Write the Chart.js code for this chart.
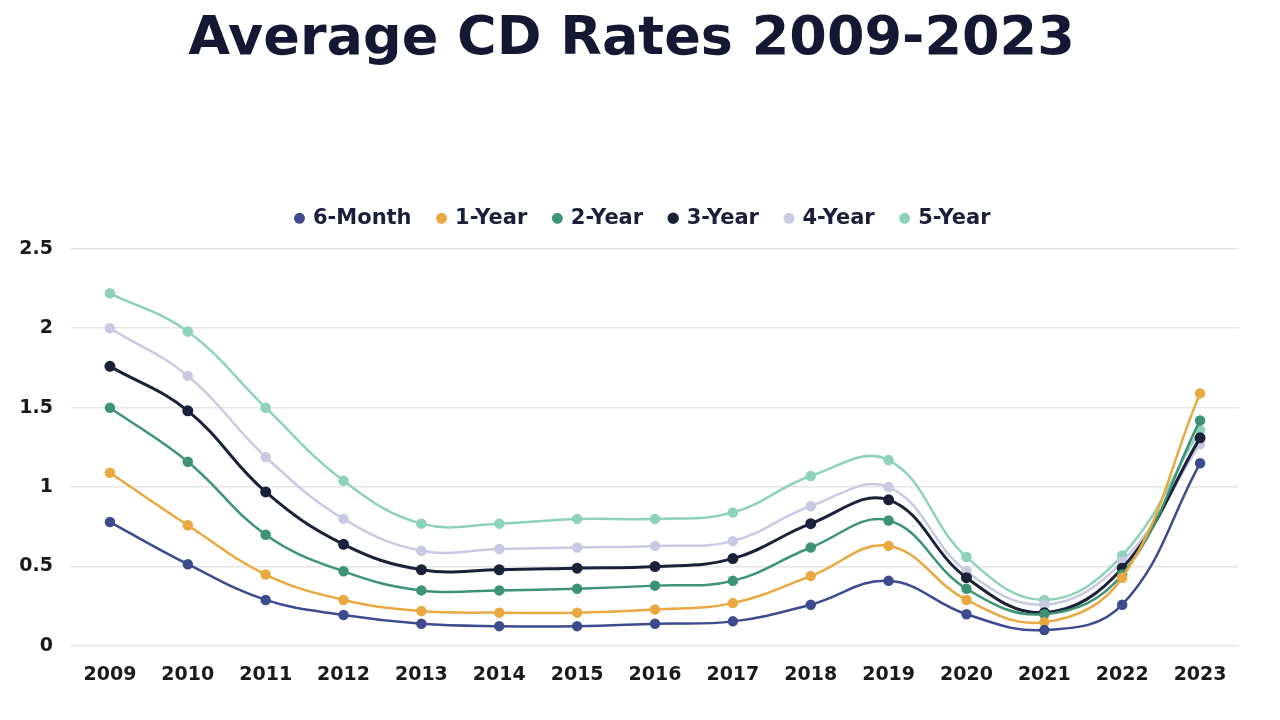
<!DOCTYPE html>
<html>
<head>
<meta charset="utf-8">
<script src="https://cdn.jsdelivr.net/npm/chart.js@4/dist/chart.umd.min.js"></script>
<style>
  html, body { margin: 0; padding: 0; background: #ffffff; }
  #wrap { width: 1280px; height: 720px; position: relative; }
</style>
</head>
<body>
<div id="wrap"><canvas id="c" width="1280" height="720"></canvas></div>
<script>
const years = ["2009","2010","2011","2012","2013","2014","2015","2016","2017","2018","2019","2020","2021","2022","2023"];
const sixMonth = [0.78,0.515,0.29,0.195,0.14,0.125,0.125,0.14,0.155,0.26,0.41,0.20,0.10,0.26,1.15];
const oneYear  = [1.09,0.76,0.45,0.29,0.22,0.21,0.21,0.23,0.27,0.44,0.63,0.29,0.15,0.43,1.59];
const twoYear  = [1.50,1.16,0.70,0.47,0.35,0.35,0.36,0.38,0.41,0.62,0.79,0.36,0.20,0.45,1.42];
const threeYear= [1.76,1.48,0.97,0.64,0.48,0.48,0.49,0.50,0.55,0.77,0.92,0.43,0.21,0.49,1.31];
const fourYear = [2.00,1.70,1.19,0.80,0.60,0.61,0.62,0.63,0.66,0.88,1.00,0.47,0.26,0.53,1.27];
const fiveYear = [2.22,1.98,1.50,1.04,0.77,0.77,0.80,0.80,0.84,1.07,1.17,0.56,0.29,0.57,1.36];
const seriesNames = ["6-Month","1-Year","2-Year","3-Year","4-Year","5-Year"];
const seriesColors = ["#3d4b8f","#e9a940","#3c9474","#1b2139","#c9cae2","#8ed2b9"];
const seriesData = [sixMonth, oneYear, twoYear, threeYear, fourYear, fiveYear];

const datasets = seriesNames.map((n, i) => ({
  label: n,
  data: seriesData[i],
  borderColor: seriesColors[i],
  backgroundColor: seriesColors[i],
  pointBackgroundColor: seriesColors[i],
  pointBorderColor: seriesColors[i],
  borderWidth: i === 3 ? 3 : 2.5,
  pointRadius: 4,
  pointHoverRadius: 4,
  tension: 0.4,
  fill: false
}));

const legendMargin = {
  id: 'legendMargin',
  beforeInit(chart) {
    const origFit = chart.legend.fit;
    chart.legend.fit = function () {
      origFit.bind(chart.legend)();
      this.height += 10;
    };
  },
  afterLayout(chart) {
    // centre title and legend as in the reference
    if (chart.titleBlock) { chart.titleBlock.left += 12; chart.titleBlock.right += 12; }
    if (chart.legend) { chart.legend.left += 24; chart.legend.right += 24; }
  }
};

const FONT = "'DejaVu Sans', 'Liberation Sans', Arial, sans-serif";

new Chart(document.getElementById('c'), {
  type: 'line',
  data: { labels: years, datasets: datasets },
  plugins: [legendMargin],
  options: {
    responsive: false,
    animation: false,
    layout: { padding: { left: 0, right: 41, top: 0, bottom: 20 } },
    plugins: {
      title: {
        display: true,
        text: 'Average CD Rates 2009-2023',
        color: '#161833',
        font: { family: FONT, size: 54, weight: 'bold' },
        padding: { top: 8, bottom: 108 }
      },
      legend: {
        display: true,
        position: 'top',
        labels: {
          usePointStyle: true,
          pointStyle: 'circle',
          boxWidth: 6,
          boxHeight: 6,
          padding: 27,
          color: '#1c1f3a',
          font: { family: FONT, size: 21, weight: 'bold' }
        }
      },
      tooltip: { enabled: false }
    },
    scales: {
      x: {
        offset: true,
        afterFit(scale) { scale.height = 54; },
        grid: { display: false },
        border: { display: false },
        ticks: {
          color: '#1a1a1a',
          padding: 10,
          font: { family: FONT, size: 19, weight: 'bold' }
        }
      },
      y: {
        min: 0,
        max: 2.5,
        afterFit(scale) { scale.width = 71; },
        ticks: {
          stepSize: 0.5,
          color: '#1a1a1a',
          padding: 18,
          font: { family: FONT, size: 19, weight: 'bold' },
          callback: v => String(v)
        },
        grid: { color: '#e6e6e6', lineWidth: 1.5, drawTicks: false },
        border: { display: false }
      }
    }
  }
});
</script>
</body>
</html>
